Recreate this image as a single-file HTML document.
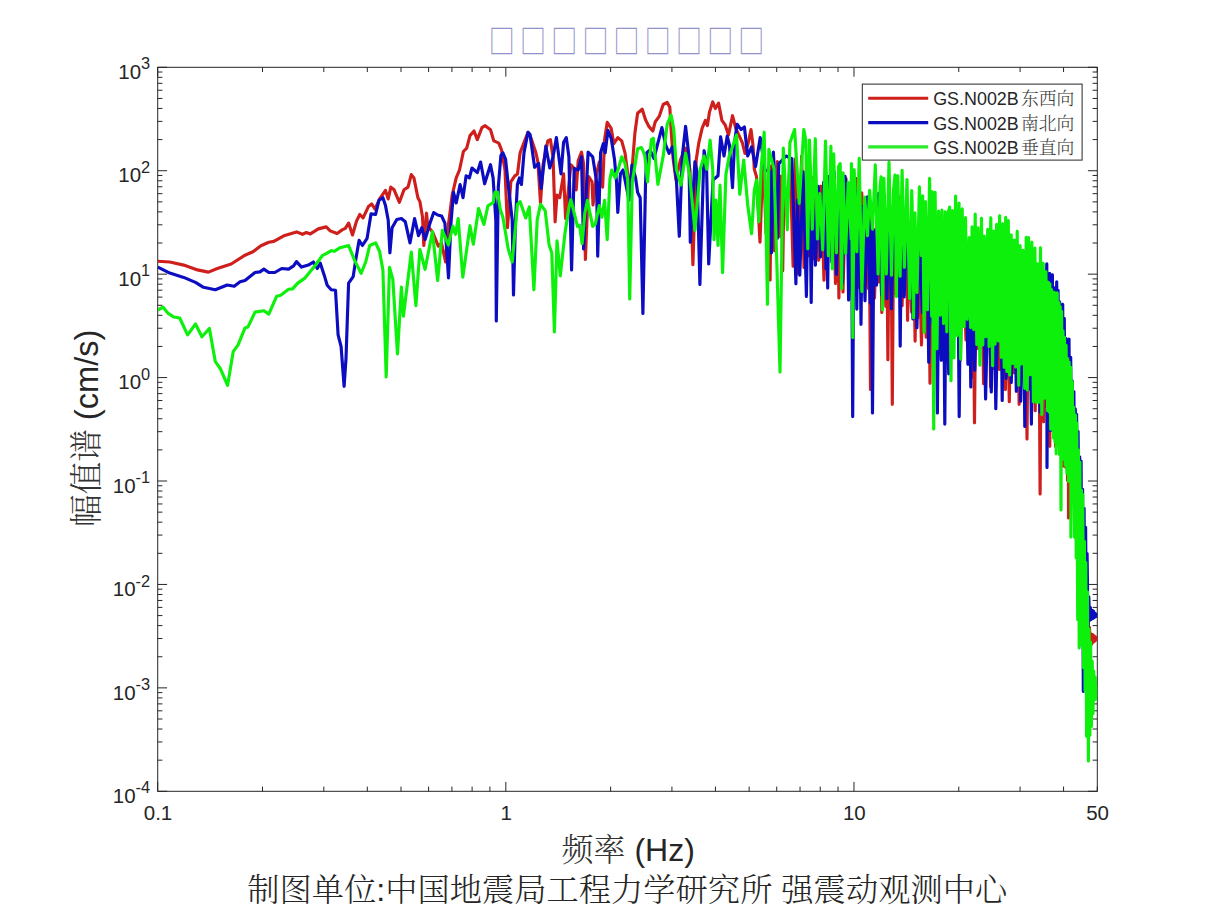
<!DOCTYPE html>
<html><head><meta charset="utf-8"><title>spectrum</title>
<style>
html,body{margin:0;padding:0;background:#fff;}
body{width:1213px;height:909px;overflow:hidden;}
svg{display:block}
.t{font-family:"Liberation Sans","Noto Serif CJK SC",sans-serif;fill:#262626}
.c{font-family:"Liberation Sans","Noto Serif CJK SC",serif;fill:#262626}
.k{fill:#333}
</style></head><body>
<svg width="1213" height="909" viewBox="0 0 1213 909">
<rect width="1213" height="909" fill="#fff"/>
<defs><clipPath id="cp"><rect x="157.7" y="67.3" width="939.6" height="724.0"/></clipPath></defs>

<rect x="157.7" y="67.3" width="939.6" height="724.0" fill="none" stroke="#262626" stroke-width="1"/>
<path d="M157.70 791.3v-9.4M157.70 67.3v9.4M262.50 791.3v-4.7M262.50 67.3v4.7M323.80 791.3v-4.7M323.80 67.3v4.7M367.30 791.3v-4.7M367.30 67.3v4.7M401.03 791.3v-4.7M401.03 67.3v4.7M428.60 791.3v-4.7M428.60 67.3v4.7M451.91 791.3v-4.7M451.91 67.3v4.7M472.10 791.3v-4.7M472.10 67.3v4.7M489.90 791.3v-4.7M489.90 67.3v4.7M505.83 791.3v-9.4M505.83 67.3v9.4M610.63 791.3v-4.7M610.63 67.3v4.7M671.93 791.3v-4.7M671.93 67.3v4.7M715.43 791.3v-4.7M715.43 67.3v4.7M749.17 791.3v-4.7M749.17 67.3v4.7M776.73 791.3v-4.7M776.73 67.3v4.7M800.04 791.3v-4.7M800.04 67.3v4.7M820.23 791.3v-4.7M820.23 67.3v4.7M838.04 791.3v-4.7M838.04 67.3v4.7M853.97 791.3v-9.4M853.97 67.3v9.4M958.76 791.3v-4.7M958.76 67.3v4.7M1020.07 791.3v-4.7M1020.07 67.3v4.7M1063.56 791.3v-4.7M1063.56 67.3v4.7M1097.30 791.3v-4.7M1097.30 67.3v4.7M157.7 791.30h9.4M1097.3 791.30h-9.4M157.7 760.16h4.7M1097.3 760.16h-4.7M157.7 741.95h4.7M1097.3 741.95h-4.7M157.7 729.03h4.7M1097.3 729.03h-4.7M157.7 719.01h4.7M1097.3 719.01h-4.7M157.7 710.82h4.7M1097.3 710.82h-4.7M157.7 703.89h4.7M1097.3 703.89h-4.7M157.7 697.89h4.7M1097.3 697.89h-4.7M157.7 692.60h4.7M1097.3 692.60h-4.7M157.7 687.87h9.4M1097.3 687.87h-9.4M157.7 656.74h4.7M1097.3 656.74h-4.7M157.7 638.52h4.7M1097.3 638.52h-4.7M157.7 625.60h4.7M1097.3 625.60h-4.7M157.7 615.58h4.7M1097.3 615.58h-4.7M157.7 607.39h4.7M1097.3 607.39h-4.7M157.7 600.46h4.7M1097.3 600.46h-4.7M157.7 594.47h4.7M1097.3 594.47h-4.7M157.7 589.18h4.7M1097.3 589.18h-4.7M157.7 584.44h9.4M1097.3 584.44h-9.4M157.7 553.31h4.7M1097.3 553.31h-4.7M157.7 535.09h4.7M1097.3 535.09h-4.7M157.7 522.17h4.7M1097.3 522.17h-4.7M157.7 512.15h4.7M1097.3 512.15h-4.7M157.7 503.96h4.7M1097.3 503.96h-4.7M157.7 497.04h4.7M1097.3 497.04h-4.7M157.7 491.04h4.7M1097.3 491.04h-4.7M157.7 485.75h4.7M1097.3 485.75h-4.7M157.7 481.01h9.4M1097.3 481.01h-9.4M157.7 449.88h4.7M1097.3 449.88h-4.7M157.7 431.67h4.7M1097.3 431.67h-4.7M157.7 418.74h4.7M1097.3 418.74h-4.7M157.7 408.72h4.7M1097.3 408.72h-4.7M157.7 400.53h4.7M1097.3 400.53h-4.7M157.7 393.61h4.7M1097.3 393.61h-4.7M157.7 387.61h4.7M1097.3 387.61h-4.7M157.7 382.32h4.7M1097.3 382.32h-4.7M157.7 377.59h9.4M1097.3 377.59h-9.4M157.7 346.45h4.7M1097.3 346.45h-4.7M157.7 328.24h4.7M1097.3 328.24h-4.7M157.7 315.32h4.7M1097.3 315.32h-4.7M157.7 305.29h4.7M1097.3 305.29h-4.7M157.7 297.10h4.7M1097.3 297.10h-4.7M157.7 290.18h4.7M1097.3 290.18h-4.7M157.7 284.18h4.7M1097.3 284.18h-4.7M157.7 278.89h4.7M1097.3 278.89h-4.7M157.7 274.16h9.4M1097.3 274.16h-9.4M157.7 243.02h4.7M1097.3 243.02h-4.7M157.7 224.81h4.7M1097.3 224.81h-4.7M157.7 211.89h4.7M1097.3 211.89h-4.7M157.7 201.86h4.7M1097.3 201.86h-4.7M157.7 193.67h4.7M1097.3 193.67h-4.7M157.7 186.75h4.7M1097.3 186.75h-4.7M157.7 180.75h4.7M1097.3 180.75h-4.7M157.7 175.46h4.7M1097.3 175.46h-4.7M157.7 170.73h9.4M1097.3 170.73h-9.4M157.7 139.59h4.7M1097.3 139.59h-4.7M157.7 121.38h4.7M1097.3 121.38h-4.7M157.7 108.46h4.7M1097.3 108.46h-4.7M157.7 98.44h4.7M1097.3 98.44h-4.7M157.7 90.25h4.7M1097.3 90.25h-4.7M157.7 83.32h4.7M1097.3 83.32h-4.7M157.7 77.32h4.7M1097.3 77.32h-4.7M157.7 72.03h4.7M1097.3 72.03h-4.7M157.7 67.30h9.4M1097.3 67.30h-9.4" stroke="#262626" stroke-width="1" fill="none"/>
<g clip-path="url(#cp)"><path d="M157.9 261.2L169.8 262.0L183.7 265.1L197.5 269.9L208.4 272.1L217.3 268.5L231.2 264.0L245.0 255.2L253.0 251.7L260.9 245.7L268.8 242.2L273.8 241.4L284.7 235.4L296.5 231.9L302.5 234.3L306.4 232.5L310.4 233.9L318.3 228.9L326.2 226.9L330.2 230.9L337.1 233.5L342.1 229.9L345.3 228.4L348.6 223.1L352.5 235.0L356.5 221.1L359.8 214.5L363.1 217.8L368.4 206.6L371.7 204.0L375.0 209.2L379.6 199.0L385.5 190.4L388.2 199.0L390.8 187.1L394.1 189.8L399.4 202.3L404.0 189.8L408.0 187.1L411.3 174.6L413.9 177.9L417.9 197.7L419.9 201.6L422.5 217.0L423.8 245.5L426.5 213.2L427.8 226.4L432.4 231.7L438.3 246.2L441.5 243.0L445.6 262.0L448.3 226.0L452.2 195.0L456.2 177.9L459.5 170.0L463.4 151.5L466.7 148.2L470.0 135.6L474.0 131.0L477.3 139.6L481.9 127.7L485.2 125.7L490.5 129.7L493.8 140.9L498.4 142.9L499.0 143.6L501.6 150.2L505.0 170.0L507.5 227.7L510.8 181.8L514.8 175.9L517.5 174.0L520.1 152.8L524.7 140.9L528.0 132.3L531.0 138.0L535.9 152.8L537.9 162.0L540.5 203.0L543.0 165.0L547.8 140.9L550.4 139.6L553.1 158.1L555.1 221.8L557.0 195.0L559.7 197.7L563.6 173.9L565.6 218.5L570.9 164.7L574.2 168.6L576.2 190.0L578.2 160.7L581.5 152.1L583.5 163.4L585.4 259.4L588.7 176.6L592.0 181.8L593.0 205.0L596.6 173.9L599.3 162.0L602.6 187.1L604.6 139.6L607.2 122.4L611.2 128.4L613.8 143.6L617.8 137.6L621.7 140.9L625.0 152.8L627.7 173.9L629.7 191.1L632.3 166.0L634.9 133.0L637.6 113.2L642.2 109.2L645.5 119.8L648.8 126.4L652.8 131.0L655.3 121.7L659.2 116.4L663.2 104.5L667.2 102.5L669.8 107.2L671.1 129.6L673.1 158.6L676.0 180.0L680.4 160.0L685.6 148.1L690.0 170.0L692.9 264.7L696.2 160.0L698.8 142.8L702.1 128.3L705.4 120.4L707.4 125.6L709.4 112.4L712.7 101.9L715.3 108.5L718.6 103.2L721.9 120.4L725.2 125.0L728.5 134.9L732.5 115.7L735.8 128.3L742.4 142.8L745.0 153.4L748.3 142.8L751.0 129.6L753.0 145.4L754.3 169.2L756.5 176.6L760.0 242.1L763.1 153.1L766.1 233.5L768.7 165.4L770.1 279.9L771.5 165.7L774.4 250.8L777.3 161.6L780.4 236.7L781.3 176.2L782.7 270.6L784.1 182.4L787.0 207.2L790.2 163.7L793.1 266.1L795.5 158.7L798.6 273.8L801.6 156.0L804.0 267.4L806.5 160.7L808.8 255.6L811.7 186.8L813.1 177.7L814.5 258.9L815.9 185.5L818.7 260.3L821.0 186.2L824.0 280.1L826.8 199.8L829.6 206.1L832.9 168.8L835.5 283.4L837.5 194.2L838.9 297.9L840.3 203.7L843.0 292.0L846.0 178.6L849.1 274.5L851.4 185.3L853.7 281.4L856.0 178.2L858.7 287.2L861.7 192.9L864.2 249.1L866.7 223.8L867.2 211.1L868.6 288.6L870.0 218.1L869.1 205.4L870.5 389.4L871.9 208.3L874.5 298.1L877.1 218.1L878.5 282.0L879.9 219.2L880.4 211.5L881.8 312.4L883.2 219.8L885.8 306.3L886.5 211.4L887.9 359.7L889.3 213.7L890.9 209.3L892.3 404.3L893.7 216.5L896.3 294.6L899.2 196.8L902.1 305.8L904.4 209.2L906.2 227.0L907.6 320.3L909.0 233.8L911.6 312.0L913.7 248.0L915.1 341.1L916.5 248.9L916.1 238.7L917.5 317.7L918.9 246.5L921.5 344.9L923.8 223.5L926.2 337.2L928.6 232.4L930.0 383.2L931.4 240.6L934.0 334.4L936.3 237.1L938.5 346.4L941.1 245.2L943.2 356.1L946.1 247.4L948.4 315.8L950.5 247.8L952.9 354.0L955.0 260.8L956.4 326.9L957.8 263.8L960.3 360.1L963.0 252.6L966.0 339.9L968.6 253.2L971.1 377.5L973.1 274.3L974.5 422.8L975.9 277.6L978.4 348.7L981.3 258.2L983.6 383.7L986.5 264.9L989.2 268.9L990.6 386.9L992.0 277.8L994.5 368.6L996.6 269.2L999.5 369.5L1002.2 266.0L1004.0 269.3L1005.4 389.4L1006.8 273.5L1009.3 401.6L1011.6 265.8L1014.2 372.8L1016.9 293.0L1017.7 291.3L1019.1 404.3L1020.5 300.5L1022.9 359.4L1025.2 273.2L1025.6 276.4L1027.0 438.9L1028.4 280.3L1030.7 374.7L1033.2 277.5L1035.2 410.7L1037.5 279.8L1038.7 278.5L1040.1 494.0L1041.5 284.9L1043.7 421.8L1046.2 278.4L1046.9 406.6L1047.6 287.9L1048.3 412.7L1049.1 283.4L1049.8 446.3L1050.5 291.1L1051.2 414.1L1051.8 293.9L1052.6 421.1L1053.2 294.1L1054.1 430.0L1054.8 300.4L1055.6 446.5L1056.5 285.5L1057.1 434.0L1057.9 304.7L1058.7 444.9L1059.4 302.5L1060.3 447.0L1061.2 307.1L1062.0 450.8L1062.6 328.8L1063.3 466.1L1063.9 335.0L1064.5 454.5L1065.1 346.5L1065.9 467.4L1066.7 356.9L1067.5 480.3L1068.3 359.4L1068.5 517.9L1069.8 371.6L1070.6 476.8L1071.3 389.2L1071.9 492.9L1072.7 399.8L1073.6 502.8L1074.4 418.9L1075.0 529.6L1075.8 435.9L1076.6 553.9L1077.3 449.1L1078.1 581.4L1078.9 468.9L1079.7 611.2L1080.4 481.5L1081.2 623.7L1082.1 508.0L1082.8 637.9L1083.5 522.4L1084.2 638.8L1085.1 553.3L1085.7 653.1L1086.6 586.4L1087.2 653.8L1087.9 603.1L1088.7 646.8L1089.5 627.5L1090.2 644.7L1091.0 633.9L1091.7 644.2L1092.6 634.5L1093.4 642.1L1094.2 635.9L1094.9 640.9L1095.6 637.1L1096.3 639.5L1097.0 638.1L1097.3 638.5" fill="none" stroke="#cf1f1c" stroke-width="3.15" stroke-linejoin="round" stroke-linecap="butt"/>
<path d="M157.9 267.1L169.8 273.1L183.7 277.4L195.5 282.4L203.5 287.3L215.3 289.7L227.2 285.0L234.2 286.3L240.1 281.8L245.0 280.4L255.0 272.5L259.9 271.9L263.9 269.1L268.8 272.5L274.8 272.5L281.7 268.5L288.6 269.1L293.6 265.9L296.5 261.6L301.5 267.1L308.4 265.1L313.4 262.0L317.3 268.5L320.3 263.2L324.3 275.4L327.2 285.3L331.2 289.7L335.5 290.3L338.1 334.9L341.1 346.7L344.1 386.3L346.0 358.6L347.3 320.0L348.6 283.2L353.2 276.6L355.8 259.4L359.1 240.3L362.4 245.5L367.1 238.3L371.0 213.9L375.6 214.5L378.9 200.3L382.9 197.7L385.5 205.6L388.2 220.0L389.9 252.8L392.1 227.7L396.8 219.5L401.4 218.5L405.3 221.8L410.0 242.9L414.6 218.5L418.5 235.6L421.8 227.7L425.1 239.6L429.8 223.8L433.7 212.5L437.7 215.0L441.6 216.0L444.9 223.1L448.5 277.9L450.9 223.8L453.5 192.4L456.2 203.0L460.1 184.5L463.0 197.7L466.1 175.9L469.4 177.9L472.0 168.0L477.3 172.6L480.6 162.0L484.6 183.8L490.5 164.7L493.1 177.9L495.8 220.0L496.3 321.0L498.3 187.1L500.9 155.4L502.9 152.8L505.6 159.4L508.2 184.5L512.2 220.0L513.5 295.0L515.5 220.0L517.4 184.5L519.4 177.9L521.4 184.5L524.0 152.8L528.0 132.3L530.0 134.3L534.6 167.3L538.6 163.4L541.2 188.4L545.8 146.2L549.8 168.0L553.1 156.8L556.4 137.6L561.0 173.9L563.6 142.2L566.3 137.6L568.9 156.8L571.6 270.0L574.2 168.6L578.2 170.0L581.5 156.8L583.6 249.0L588.1 152.1L592.7 156.8L596.6 181.8L597.7 256.1L600.6 152.8L603.3 143.6L605.2 152.8L607.9 130.4L611.2 138.3L614.5 159.4L616.5 181.8L617.8 212.5L620.4 173.9L623.0 170.0L626.0 185.0L629.0 200.0L632.0 165.0L635.6 177.9L637.6 192.4L640.2 197.7L642.9 313.5L645.5 184.5L646.8 152.8L650.0 150.0L654.0 158.6L657.9 142.8L661.9 127.6L665.8 145.4L669.1 153.4L672.4 146.8L676.4 179.8L679.3 236.3L682.3 156.0L685.6 126.3L688.9 156.0L690.3 242.2L694.9 161.9L697.0 172.0L699.9 284.5L704.1 150.7L706.5 165.0L708.7 264.0L713.0 180.0L718.0 175.8L720.6 136.9L724.0 156.0L727.2 136.2L729.5 145.4L732.5 187.7L734.5 142.8L737.1 124.3L741.1 129.6L744.4 127.0L747.7 156.0L751.6 146.8L755.6 166.6L760.2 137.5L765.0 170.0L770.1 171.8L771.5 252.8L773.4 152.0L777.4 238.3L778.7 163.9L786.0 156.0L791.9 158.6L795.9 283.8L797.5 200.0L799.8 275.2L803.1 171.8L806.4 296.4L808.5 170.2L809.8 182.1L811.2 302.5L812.6 188.0L815.4 265.2L818.3 186.4L820.6 257.0L823.7 182.1L826.0 268.6L826.3 176.2L827.7 288.0L829.1 176.4L831.8 262.0L834.2 171.8L836.4 274.3L839.5 178.7L842.4 283.2L845.0 176.2L847.2 198.9L848.6 299.9L850.0 202.0L851.3 183.8L852.7 416.6L854.1 191.4L855.4 191.3L856.8 309.1L858.2 200.9L859.6 197.5L861.0 324.3L862.4 206.6L865.0 300.6L867.5 196.8L870.3 303.0L871.1 222.0L872.5 412.9L873.9 229.6L876.5 285.1L878.7 193.3L881.6 294.8L884.1 195.4L886.9 298.7L889.1 200.0L891.4 308.6L894.3 198.2L897.3 295.4L898.8 202.6L900.2 346.1L901.6 212.5L904.2 296.9L907.0 213.6L909.4 297.7L911.5 237.6L912.9 319.0L914.3 241.4L916.9 327.8L919.4 231.3L922.4 312.4L925.3 240.2L927.3 245.7L928.7 362.2L930.1 247.7L932.7 322.6L935.3 239.6L936.0 264.0L937.4 412.9L938.8 266.5L941.3 360.3L943.4 252.4L944.8 424.1L946.2 254.7L948.7 373.8L951.4 257.7L953.6 339.6L956.1 238.8L957.8 258.2L959.2 416.6L960.6 267.1L963.1 325.4L965.9 257.1L967.9 364.1L969.4 273.0L970.8 386.9L972.2 277.8L974.7 370.2L977.7 258.4L980.5 340.6L983.2 275.2L985.6 398.9L988.5 270.2L991.3 392.0L993.7 266.4L995.8 408.7L998.7 264.4L1000.8 282.1L1002.2 400.5L1003.6 283.0L1006.1 378.4L1008.7 268.1L1011.3 382.5L1014.1 268.3L1016.3 391.3L1018.4 282.1L1020.7 401.2L1023.3 271.6L1023.4 284.4L1024.8 426.5L1026.2 290.2L1028.5 389.1L1030.0 290.6L1031.4 424.1L1032.8 300.1L1035.0 282.9L1036.4 396.8L1037.8 285.6L1040.1 411.9L1042.4 273.8L1044.9 351.1L1046.8 263.8L1047.0 467.4L1048.2 281.4L1048.8 406.2L1049.6 273.4L1050.4 430.5L1051.1 278.8L1051.7 418.8L1052.4 274.7L1053.0 427.5L1053.7 287.6L1054.5 427.1L1055.4 292.5L1056.1 438.8L1056.7 281.7L1057.5 436.6L1058.1 290.2L1058.8 440.4L1059.6 301.8L1060.4 451.7L1061.2 313.8L1061.9 442.9L1062.7 304.2L1063.4 454.3L1064.3 318.4L1065.1 453.3L1065.9 338.2L1066.6 462.7L1067.3 340.6L1068.1 467.0L1069.0 339.0L1069.8 464.6L1070.7 357.3L1071.6 486.7L1072.4 381.1L1073.1 499.5L1073.9 391.6L1074.7 503.1L1075.3 408.8L1075.9 506.5L1076.6 414.3L1077.4 536.5L1078.1 431.4L1078.9 543.5L1079.7 456.8L1080.4 576.4L1081.1 461.1L1081.8 619.8L1082.6 489.3L1083.3 691.3L1084.1 508.3L1084.9 645.1L1085.6 527.2L1086.5 638.6L1087.1 553.5L1088.0 628.9L1088.8 596.8L1089.6 620.5L1090.4 607.5L1091.2 619.4L1092.0 610.3L1092.7 618.5L1093.5 611.1L1094.3 617.6L1095.2 613.3L1095.9 616.5L1096.5 614.4L1097.3 615.4" fill="none" stroke="#0c0cc0" stroke-width="3.15" stroke-linejoin="round" stroke-linecap="butt"/>
<path d="M157.9 310.1L162.9 307.1L167.8 313.1L173.8 317.0L179.7 318.0L187.6 334.9L195.5 324.0L201.9 336.8L209.4 328.5L215.3 361.6L220.3 368.5L227.6 385.3L233.2 351.7L238.1 344.8L245.0 327.9L248.0 326.9L255.0 312.1L263.9 310.7L268.8 314.1L276.7 296.2L280.7 295.2L288.6 289.3L292.6 288.9L297.5 283.4L304.5 278.4L314.4 266.5L322.3 255.6L326.2 253.7L331.2 250.7L334.2 251.3L340.1 247.7L348.6 245.5L354.5 260.1L361.1 273.3L365.7 262.0L369.7 245.5L375.6 242.9L379.6 251.5L382.9 270.0L386.2 376.9L389.5 267.3L392.8 279.2L397.5 353.9L401.4 287.1L403.4 316.2L411.3 252.1L415.9 305.6L419.9 249.5L425.1 269.3L432.4 231.7L437.7 280.5L442.3 230.4L448.3 244.9L452.9 226.4L455.5 234.3L458.2 218.5L462.8 277.2L470.0 225.7L473.3 244.2L478.6 208.6L483.9 224.4L487.9 205.9L493.1 202.6L495.0 192.4L497.6 192.4L500.3 209.6L502.9 217.2L508.2 248.8L512.2 262.0L516.1 219.8L517.4 204.3L520.1 201.6L525.7 218.0L529.3 206.9L533.9 289.8L537.2 219.8L540.5 204.3L545.2 210.6L549.1 244.9L551.8 252.8L554.4 332.0L557.0 240.9L560.3 275.9L565.0 233.0L568.9 207.9L570.9 199.7L574.2 213.2L577.5 226.4L579.5 225.1L582.1 243.6L584.8 213.2L587.4 200.3L592.7 226.4L595.3 223.8L599.3 205.6L601.9 217.2L604.6 200.3L607.2 239.6L609.9 179.2L611.8 170.0L615.1 177.9L618.4 168.6L621.7 156.8L625.0 163.4L627.7 179.2L629.7 299.0L632.3 181.8L634.9 166.0L637.6 148.8L641.5 147.5L644.8 155.4L647.5 181.8L649.5 159.4L651.4 139.6L653.4 138.3L657.9 184.4L663.2 156.0L667.2 124.3L671.1 115.1L673.8 129.6L676.4 169.2L681.0 185.0L685.6 153.4L689.6 174.5L694.9 230.4L700.2 169.2L704.1 156.0L706.8 169.2L710.1 140.2L712.7 169.2L714.0 239.6L716.0 200.0L718.0 245.5L720.0 185.0L722.6 272.6L725.9 174.5L729.2 156.0L732.5 146.8L736.5 134.9L739.8 194.3L743.7 160.0L747.7 205.0L751.6 233.7L754.3 190.3L756.5 180.0L758.9 221.8L761.0 170.0L764.2 132.2L767.5 304.3L768.8 149.4L774.1 169.2L780.0 372.0L783.3 148.1L787.3 229.7L789.9 142.8L794.6 129.6L799.2 203.5L803.8 129.6L805.8 140.2L807.8 248.8L809.5 140.0L812.3 229.2L815.3 138.7L817.5 238.9L819.9 193.5L822.7 249.8L825.5 141.1L828.4 255.6L830.9 146.2L832.3 268.8L833.7 153.8L836.4 252.8L838.6 166.5L840.2 163.6L841.6 288.6L843.0 172.8L845.6 253.2L848.2 182.2L851.2 239.1L851.4 163.5L852.8 337.5L854.2 169.7L856.8 251.7L859.2 158.4L861.9 291.5L864.6 197.0L867.5 235.8L869.6 190.3L872.6 229.1L875.3 164.9L878.1 273.9L880.1 186.5L881.1 176.8L882.5 309.8L883.9 178.3L886.3 273.9L889.0 162.1L891.5 275.2L893.6 189.3L895.0 175.0L896.4 296.6L897.8 175.7L900.1 276.1L902.1 170.3L904.4 267.3L907.0 179.5L909.6 298.5L911.7 190.6L912.1 203.5L913.5 317.7L914.9 212.9L917.0 292.4L919.4 186.9L921.3 255.5L922.7 195.8L924.1 332.2L925.5 201.6L927.5 309.6L929.6 178.4L931.7 316.2L932.3 191.7L933.7 429.0L935.1 192.3L937.0 348.7L938.6 211.1L940.3 315.2L941.9 210.1L943.6 323.4L945.3 211.7L946.8 331.8L948.3 212.7L949.6 207.1L951.0 380.7L952.4 210.5L954.0 357.8L955.6 196.0L957.2 335.6L959.0 203.0L960.7 359.1L962.2 208.9L964.0 326.7L965.5 217.6L967.3 319.3L969.2 237.6L970.7 327.5L972.1 226.8L973.7 329.6L975.2 214.1L976.8 344.5L978.1 227.8L979.9 365.1L981.5 218.2L982.8 344.9L984.3 236.0L985.9 336.7L987.7 229.3L989.1 346.5L990.8 217.7L992.6 365.7L993.8 231.0L995.1 344.1L996.6 224.4L998.3 341.0L999.6 215.7L1001.3 357.3L1002.8 223.7L1004.2 367.3L1005.7 217.3L1006.9 371.5L1008.3 220.6L1009.7 375.0L1011.2 234.9L1012.6 363.5L1014.2 240.0L1015.7 366.9L1017.2 231.2L1018.7 385.2L1020.1 245.5L1021.4 363.9L1023.0 250.3L1024.7 388.3L1026.2 237.3L1027.3 390.0L1028.5 237.5L1030.2 374.8L1031.8 242.1L1033.4 401.7L1034.9 248.0L1036.5 402.4L1037.7 263.7L1038.9 402.2L1040.5 247.7L1041.8 414.4L1043.2 263.4L1044.5 398.3L1045.9 271.6L1047.5 410.4L1048.3 282.2L1049.1 412.0L1049.8 283.7L1050.7 429.2L1051.3 289.2L1052.2 428.7L1053.0 292.1L1053.6 437.9L1054.3 292.3L1055.0 442.0L1055.8 302.8L1056.2 453.8L1057.2 292.8L1058.0 445.5L1058.9 302.6L1059.6 454.7L1060.2 306.6L1061.0 510.0L1061.6 311.3L1062.3 450.6L1063.0 330.7L1063.7 459.2L1064.5 337.2L1065.3 465.1L1066.1 345.3L1066.9 473.2L1067.7 358.5L1068.5 481.2L1069.1 362.0L1069.9 471.7L1070.8 367.3L1070.9 537.0L1072.3 381.6L1072.9 501.5L1073.7 407.3L1074.6 537.2L1075.5 415.0L1076.2 557.8L1076.8 423.1L1077.7 619.6L1078.4 449.7L1079.2 647.9L1079.9 462.1L1080.6 645.1L1081.4 490.0L1082.1 640.0L1082.8 494.6L1083.6 667.7L1084.4 541.2L1085.1 690.5L1085.8 562.4L1086.6 736.2L1087.4 591.8L1088.4 761.0L1089.0 629.1L1089.9 735.3L1090.6 642.0L1091.4 726.5L1092.2 661.0L1093.0 713.4L1093.8 671.1L1094.4 699.9L1095.2 677.0L1096.1 698.9L1096.8 686.3L1097.3 692.0" fill="none" stroke="#0cf00c" stroke-width="3.15" stroke-linejoin="round" stroke-linecap="butt"/></g>
<text class="t" x="158.0" y="820.1" font-size="20.5" text-anchor="middle">0.1</text>
<text class="t" x="506.1" y="820.1" font-size="20.5" text-anchor="middle">1</text>
<text class="t" x="854.3" y="820.1" font-size="20.5" text-anchor="middle">10</text>
<text class="t" x="1097.6" y="820.1" font-size="20.5" text-anchor="middle">50</text>
<text class="t" x="150.2" y="802.9" font-size="20.5" text-anchor="end">10<tspan font-size="16.4" dy="-9.5">-4</tspan></text>
<text class="t" x="150.2" y="699.5" font-size="20.5" text-anchor="end">10<tspan font-size="16.4" dy="-9.5">-3</tspan></text>
<text class="t" x="150.2" y="596.0" font-size="20.5" text-anchor="end">10<tspan font-size="16.4" dy="-9.5">-2</tspan></text>
<text class="t" x="150.2" y="492.6" font-size="20.5" text-anchor="end">10<tspan font-size="16.4" dy="-9.5">-1</tspan></text>
<text class="t" x="150.2" y="389.2" font-size="20.5" text-anchor="end">10<tspan font-size="16.4" dy="-9.5">0</tspan></text>
<text class="t" x="150.2" y="285.8" font-size="20.5" text-anchor="end">10<tspan font-size="16.4" dy="-9.5">1</tspan></text>
<text class="t" x="150.2" y="182.3" font-size="20.5" text-anchor="end">10<tspan font-size="16.4" dy="-9.5">2</tspan></text>
<text class="t" x="150.2" y="78.9" font-size="20.5" text-anchor="end">10<tspan font-size="16.4" dy="-9.5">3</tspan></text>
<text class="c" x="628.2" y="860.6" font-size="32" text-anchor="middle"><tspan font-weight="300" class="k">频率</tspan> (Hz)</text>
<text class="c" x="627.2" y="901" font-size="32.28" text-anchor="middle" font-weight="300" class="k">制图单位<tspan font-weight="400">:</tspan>中国地震局工程力学研究所 强震动观测中心</text>
<text class="c" transform="translate(98.3,428.3) rotate(-90)" font-size="32.6" text-anchor="middle"><tspan font-weight="300" class="k">幅值谱</tspan> (cm/s)</text>
<text transform="translate(0,53.0) scale(0.83,1)" x="588.9 626.5 664.1 701.7 739.3 776.9 814.5 852.0 889.6" y="0" font-size="31.3" fill="#9393cb" font-family="&quot;Noto Sans CJK SC&quot;,sans-serif">□□□□□□□□□</text>
<rect x="862.3" y="84.1" width="219.8" height="76" fill="#fff" stroke="#262626" stroke-width="1"/>
<path d="M868.2 98.3H928.2" stroke="#cf1f1c" stroke-width="3.1" fill="none"/>
<text class="c" x="933.2" y="105.2" font-size="17.9">GS.N002B<tspan dx="2.2" font-size="17.8" font-weight="300" class="k">东西向</tspan></text>
<path d="M868.2 122.6H928.2" stroke="#0c0cc0" stroke-width="3.1" fill="none"/>
<text class="c" x="933.2" y="129.5" font-size="17.9">GS.N002B<tspan dx="2.2" font-size="17.8" font-weight="300" class="k">南北向</tspan></text>
<path d="M868.2 146.9H928.2" stroke="#2aea2a" stroke-width="3.1" fill="none"/>
<text class="c" x="933.2" y="153.8" font-size="17.9">GS.N002B<tspan dx="2.2" font-size="17.8" font-weight="300" class="k">垂直向</tspan></text>
</svg></body></html>
